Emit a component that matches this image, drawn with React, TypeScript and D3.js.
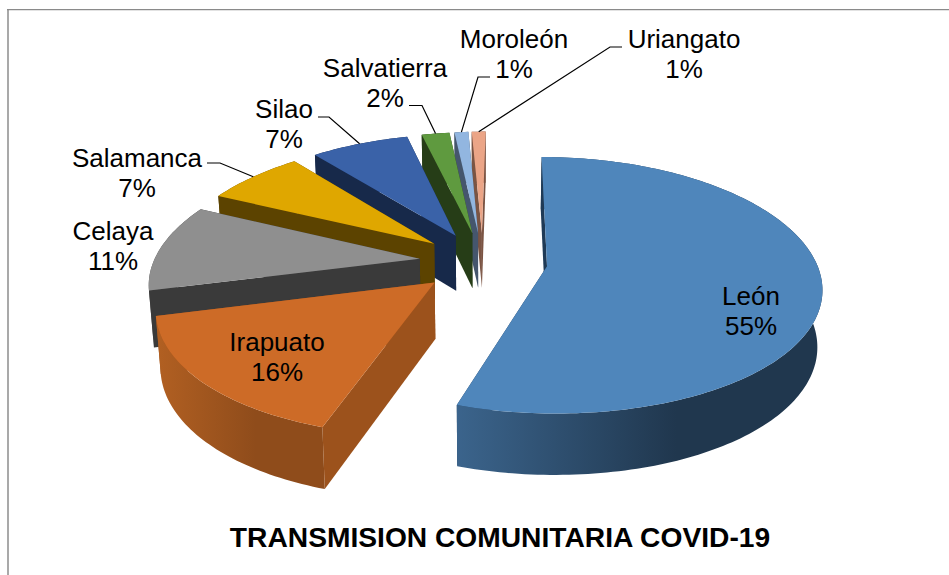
import React from "react";
import * as d3 from "d3";

const cities = ["León", "Irapuato", "Celaya", "Salamanca", "Silao", "Salvatierra", "Moroleón", "Uriangato"];
const shares = [55, 16, 11, 7, 7, 2, 1, 1];
const topColors = ["#4f86bb", "#cd6b27", "#8f8f8f", "#dfa700", "#3a62a8", "#5f9a3f", "#92b6e0", "#eba587"];
const sideColors = ["#1f3a56", "#9c521c", "#3a3a3a", "#5c4300", "#17294a", "#263d17", "#45566d", "#7b5443"];
const rimLeftColors = ["#3b648c", "#b26022", "#555555", "#5c4300", "#17294a", "#263d17", "#45566d", "#7b5443"];
const rimRightColors = ["#20374e", "#8f4c1b", "#444444", "#5c4300", "#17294a", "#263d17", "#45566d", "#7b5443"];
const title = "TRANSMISION COMUNITARIA COVID-19";

// layout of labels [x, first baseline]
const labelPos: [number, number][] = [
  [751, 305], [277, 351], [113, 240], [137, 167], [284, 118], [385, 77], [514, 48], [684, 48],
];
// leader start points and elbows (León, Irapuato, Celaya have none)
const leaders: ([number, number][] | null)[] = [
  null, null, null,
  [[207, 163], [220, 163]],
  [[318, 117], [329, 117]],
  [[409, 105.5], [422, 105.5]],
  [[490, 77], [478, 77]],
  [[622, 47], [610, 47]],
];

const W = 949, H = 575;
const cx = 483, shear = 3.5, cy = 261.5, RxRight = 269, RxLeft = 266, Ry = 124, perspX = 0.16, perspY = 0.148, explode = 0.24, bottomShrink = 0.985;
const wallHeight = d3.scaleLinear().domain([0.87, 1.2]).range([52, 62]);

function project(u: number, v: number): [number, number] {
  const Rx = u < 0 ? RxLeft : RxRight;
  return [cx + shear * v + (Rx * u) / (1 + perspX * v), cy - (Ry * v) / (1 + perspY * v)];
}
function drop(u: number, v: number): [number, number] {
  const p = project(u, v);
  return [cx + (p[0] - cx) * bottomShrink, p[1] + wallHeight(1 / (1 + perspY * v))];
}

const pieGen = d3.pie<number>().sort(null).value((d) => d).startAngle(0).endAngle(2 * Math.PI);
const arcs = pieGen(shares);
const line = d3.line<[number, number]>();

function closed(points: [number, number][]) {
  return (line(points) || "") + "Z";
}

export default function App() {
  const slices = arcs.map((a, i) => {
    const mid = (a.startAngle + a.endAngle) / 2;
    const eu = explode * Math.sin(mid);
    const ev = explode * Math.cos(mid);
    const n = Math.max(4, Math.round((a.endAngle - a.startAngle) * 50));
    const angles = d3.range(n + 1).map((k) => a.startAngle + ((a.endAngle - a.startAngle) * k) / n);
    const rim = angles.map((t) => [eu + Math.sin(t), ev + Math.cos(t)] as [number, number]);
    const rimTop = rim.map(([u, v]) => project(u, v));
    const rimBottom = rim.map(([u, v]) => drop(u, v));
    const apexTop = project(eu, ev);
    const apexBottom = drop(eu, ev);
    const xs = rimTop.map((p) => p[0]);
    const midRim = project(eu + Math.sin(mid), ev + Math.cos(mid));
    return {
      i,
      top: closed([apexTop, ...rimTop]),
      wallStart: closed([apexTop, rimTop[0], rimBottom[0], apexBottom]),
      wallEnd: closed([apexTop, rimTop[n], rimBottom[n], apexBottom]),
      wallRim: closed([...rimTop, ...[...rimBottom].reverse()]),
      x0: d3.min(xs) as number,
      x1: d3.max(xs) as number,
      midRim,
    };
  });

  return (
    <svg
      width={W}
      height={H}
      viewBox={`0 0 ${W} ${H}`}
      style={{ position: "absolute", left: 0, top: 0, display: "block", background: "#fff" }}
      fontFamily="'Liberation Sans', Arial, sans-serif"
    >
      <defs>
        {slices.map((s) => (
          <linearGradient key={s.i} id={`rim${s.i}`} gradientUnits="userSpaceOnUse" x1={s.x0} x2={s.x1} y1={0} y2={0}>
            <stop offset="0" stopColor={rimLeftColors[s.i]} />
            <stop offset="0.6" stopColor={rimRightColors[s.i]} />
            <stop offset="1" stopColor={rimRightColors[s.i]} />
          </linearGradient>
        ))}
      </defs>
      <line x1={8} x2={8} y1={9} y2={H} stroke="#a9a9a9" strokeWidth={2} />
      <line x1={7} x2={W} y1={9.6} y2={9.6} stroke="#8a8a8a" strokeWidth={1.3} />
      {[...slices].reverse().map((s) => (
        <g key={s.i}>
          <path d={s.wallEnd} fill={sideColors[s.i]} />
          <path d={s.wallRim} fill={`url(#rim${s.i})`} />
          <path d={s.wallStart} fill={sideColors[s.i]} />
          <path d={s.top} fill={topColors[s.i]} />
        </g>
      ))}
      {slices.map((s) => {
        const l = leaders[s.i];
        if (!l) return null;
        return <path key={s.i} d={line([...l, s.midRim]) || ""} fill="none" stroke="#000" strokeWidth={1.2} />;
      })}
      {cities.map((c, i) => (
        <text key={c} x={labelPos[i][0]} y={labelPos[i][1]} fontSize={26} textAnchor="middle" fill="#000">
          <tspan x={labelPos[i][0]}>{c}</tspan>
          <tspan x={labelPos[i][0]} dy={30}>{shares[i]}%</tspan>
        </text>
      ))}
      <text x={500} y={547} fontSize={28.2} fontWeight={700} textAnchor="middle" fill="#000">{title}</text>
    </svg>
  );
}
